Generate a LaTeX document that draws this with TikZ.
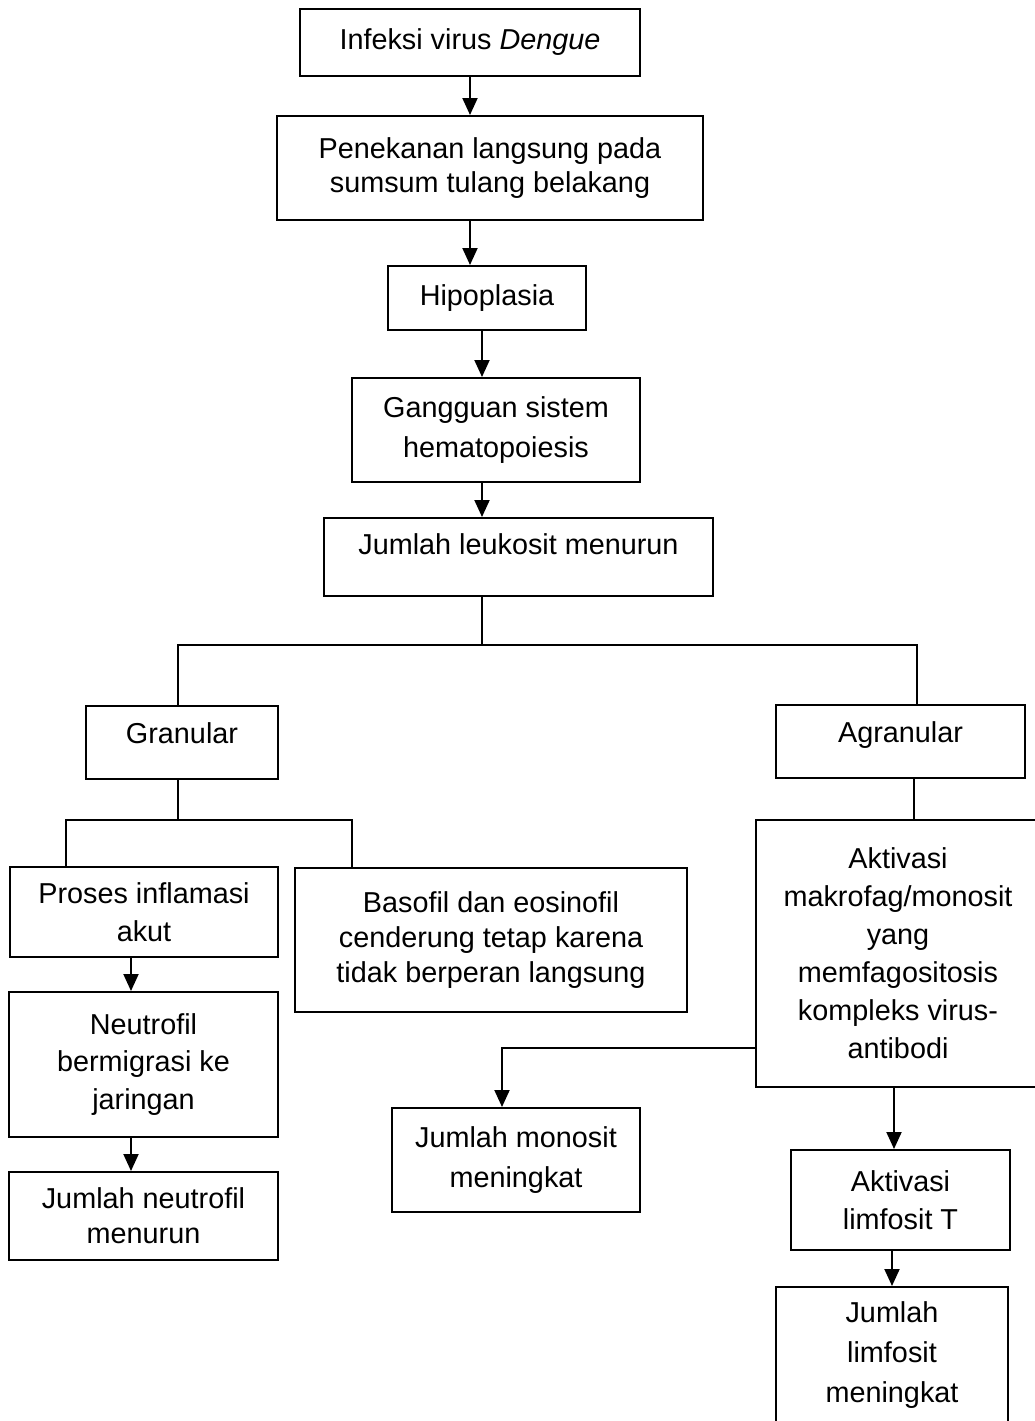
\documentclass[tikz,border=0pt]{standalone}
\usepackage{fontspec}
\setmainfont{Liberation Sans}
\usetikzlibrary{positioning, arrows.meta}

\tikzset{
  box/.style={draw, align=center, inner sep=0pt, font=\fontsize{28.8}{34}\selectfont},
  ls/.style={font=\fontsize{28.8}{#1}\selectfont},
  arr/.style={-{Triangle[length=17pt,width=15pt]}}
}

\begin{document}
\begin{tikzpicture}[x=1pt, y=-1pt, line width=2pt]
\useasboundingbox (0,0) rectangle (1035,1421);
\fill[white] (0,0) rectangle (1035,1421);

% main chain
\node[box, minimum width=340, minimum height=67] (inf) at (470,42.5) {Infeksi virus \textit{Dengue}};
\node[box, minimum width=426, minimum height=104] (pen) at (490,168) {Penekanan langsung pada\\sumsum tulang belakang};
\node[box, minimum width=198, minimum height=64] (hip) at (487,298) {Hipoplasia};
\node[box, ls=40, minimum width=288, minimum height=104] (gang) at (496,430) {Gangguan sistem\\hematopoiesis};
\node[box, minimum width=389, minimum height=78, text height=21pt, text depth=26pt] (leuk) at (518.5,557) {Jumlah leukosit menurun};

% granular side
\node[box, minimum width=192, minimum height=73, text height=21pt, text depth=20pt] (gran) at (182,742.5) {Granular};
\node[box, ls=38, minimum width=268, minimum height=90] (pros) at (144,912) {Proses inflamasi\\akut};
\node[box, ls=35, minimum width=392, minimum height=144] (baso) at (491,940) {Basofil dan eosinofil\\cenderung tetap karena\\tidak berperan langsung};
\node[box, ls=37.5, minimum width=269, minimum height=145] (neut) at (143.5,1064.5) {Neutrofil\\bermigrasi ke\\jaringan};
\node[box, ls=35, minimum width=269, minimum height=88] (jneut) at (143.5,1216) {Jumlah neutrofil\\menurun};

% agranular side
\node[box, minimum width=249, minimum height=73, text height=21pt, text depth=20pt] (agran) at (900.5,741.5) {Agranular};
\node[box, ls=38, minimum width=284, minimum height=267] (makro) at (898,953.5) {Aktivasi\\makrofag/monosit\\yang\\memfagositosis\\kompleks virus-\\antibodi};
\node[box, ls=40, minimum width=248, minimum height=104] (mono) at (516,1160) {Jumlah monosit\\meningkat};
\node[box, ls=38, minimum width=219, minimum height=100] (alimf) at (900.5,1200) {Aktivasi\\limfosit T};
\node[box, ls=40, minimum width=232, minimum height=137] (jlimf) at (892,1355.5) {Jumlah\\limfosit\\meningkat};

% line positions
\coordinate (xa) at (470,0);
\coordinate (xb) at (482,0);
\coordinate (xg) at (178,0);
\coordinate (xag) at (917,0);
\coordinate (xag2) at (914,0);
\coordinate (xp) at (66,0);
\coordinate (xbs) at (352,0);
\coordinate (xn) at (131,0);
\coordinate (xm) at (502,0);
\coordinate (xl) at (894,0);
\coordinate (xl2) at (892,0);
\coordinate (ybus) at (0,645);
\coordinate (ybus2) at (0,820);
\coordinate (ymono) at (0,1048);

\draw[arr] (inf.south -| xa) -- (pen.north -| xa);
\draw[arr] (pen.south -| xa) -- (hip.north -| xa);
\draw[arr] (hip.south -| xb) -- (gang.north -| xb);
\draw[arr] (gang.south -| xb) -- (leuk.north -| xb);
\draw (leuk.south -| xb) -- (xb |- ybus);
\draw (gran.north -| xg) -- (xg |- ybus) -- (xag |- ybus) -- (agran.north -| xag);

\draw (gran.south -| xg) -- (xg |- ybus2);
\draw (pros.north -| xp) -- (xp |- ybus2) -- (xbs |- ybus2) -- (baso.north -| xbs);
\draw[arr] (pros.south -| xn) -- (neut.north -| xn);
\draw[arr] (neut.south -| xn) -- (jneut.north -| xn);

\draw (agran.south -| xag2) -- (makro.north -| xag2);
\draw[arr] (makro.west |- ymono) -- (xm |- ymono) -- (mono.north -| xm);
\draw[arr] (makro.south -| xl) -- (alimf.north -| xl);
\draw[arr] (alimf.south -| xl2) -- (jlimf.north -| xl2);
\end{tikzpicture}
\end{document}
